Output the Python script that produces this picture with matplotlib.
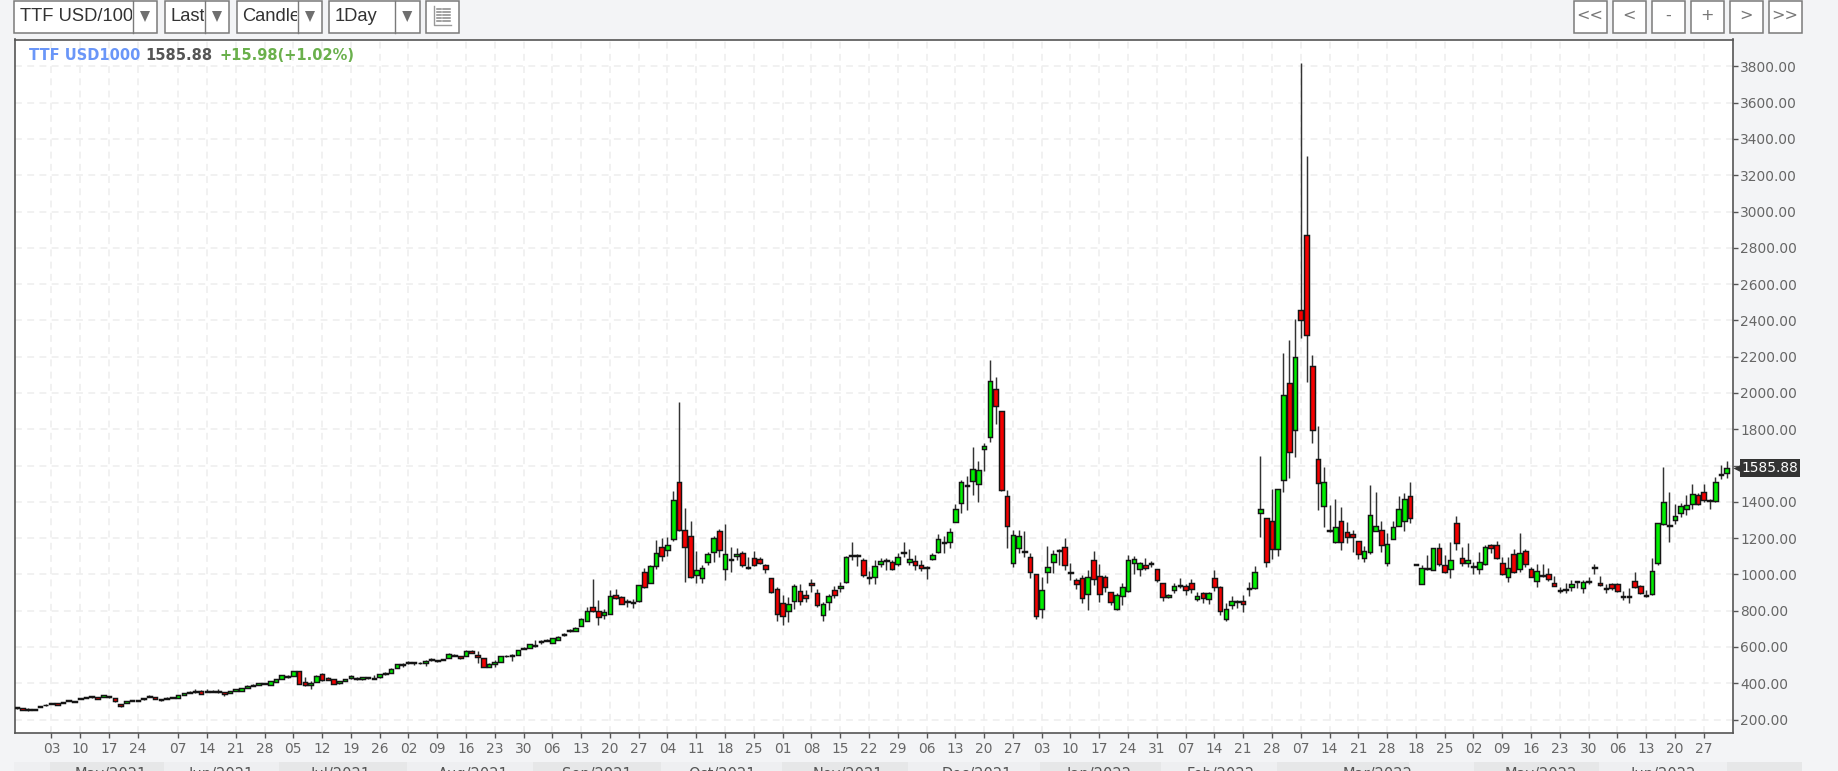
import matplotlib
matplotlib.use('Agg')
import matplotlib.pyplot as plt
from matplotlib.patches import Rectangle, Polygon
from matplotlib.transforms import Bbox

# candles, one line = 10 trading days, oldest first
opens = [262,262,258,259,268,278,288,291,290,308,
    302,316,318,322,322,326,330,318,286,293,
    304,309,311,325,322,313,315,319,318,334,
    347,360,358,354,360,358,350,346,358,360,
    376,386,393,400,391,408,426,440,441,465,
    406,392,408,450,428,424,404,414,430,428,
    425,432,431,432,450,457,483,505,510,516,
    514,514,532,528,530,542,558,548,549,577,
    556,540,490,507,520,548,550,557,597,597,
    612,628,640,623,638,664,686,687,715,746,
    822,798,774,781,888,873,855,850,855,1013,
    954,1046,1153,1136,1193,1507,1243,1211,996,978,
    1070,1121,1239,1028,1080,1104,1119,1042,1092,1085,
    1053,978,919,844,796,855,906,886,950,895,
    779,847,913,923,960,1102,1108,1079,986,987,
    1055,1082,1066,1056,1118,1068,1075,1051,1038,1083,
    1125,1178,1176,1291,1392,1492,1517,1500,1690,1756,
    2022,1899,1434,1061,1143,1128,1096,1005,807,1013,
    1068,1137,1153,1012,969,978,890,1079,994,987,
    904,812,880,908,1064,1028,1051,1062,1029,954,
    873,913,944,934,954,862,895,862,978,930,
    755,829,855,855,920,923,1336,1312,1292,1138,
    1519,2057,1798,2455,2868,2147,1635,1375,1244,1178,
    1294,1235,1221,1184,1089,1121,1237,1243,1062,1194,
    1269,1292,1434,1056,947,1036,1024,1143,1051,1028,
    1285,1088,1061,1045,1029,1055,1160,1160,1061,987,
    1112,1028,1129,1029,963,997,1005,954,908,913,
    930,963,923,958,1036,950,921,945,947,879,
    879,963,937,880,891,1061,1278,1270,1301,1336,
    1360,1388,1438,1452,1408,1406,1546,1558]
closes = [270,255,252,253,275,283,292,282,296,302,
    299,320,322,330,316,334,322,300,274,303,
    309,301,318,328,312,306,321,323,334,344,
    352,352,342,360,354,352,343,356,366,375,
    386,392,401,396,410,424,443,432,467,397,
    390,404,441,417,420,397,410,424,440,424,
    432,427,426,450,458,481,506,500,518,510,
    510,522,526,524,534,564,550,540,580,568,
    544,490,509,516,549,553,556,581,591,614,
    608,632,635,647,656,672,692,706,755,796,
    798,763,794,880,871,838,848,845,939,928,
    1046,1119,1103,1160,1410,1245,1153,987,1027,1038,
    1114,1202,1134,1112,1086,1110,1051,1034,1053,1061,
    1028,904,781,772,838,937,855,871,940,829,
    836,880,888,937,1096,1108,1102,996,980,1044,
    1072,1076,1028,1094,1124,1086,1053,1035,1042,1107,
    1195,1172,1235,1360,1509,1486,1583,1574,1710,2065,
    1930,1465,1268,1219,1211,1122,1011,770,914,1039,
    1112,1131,1051,1006,947,871,987,972,890,928,
    847,886,928,1079,1086,1061,1037,1056,969,873,
    886,938,938,914,921,880,871,895,928,798,
    812,855,849,836,926,1011,1362,1069,1138,1469,
    1991,1674,2198,2401,2317,1798,1503,1509,1238,1261,
    1178,1204,1206,1113,1127,1328,1269,1162,1168,1261,
    1359,1416,1312,1053,1033,1030,1143,1057,1013,1079,
    1171,1061,1079,1040,1070,1152,1145,1088,1004,1037,
    1015,1119,1055,987,1018,991,972,937,912,917,
    947,959,960,962,1040,944,925,923,910,875,
    875,930,897,884,1020,1285,1401,1266,1320,1375,
    1384,1441,1390,1410,1404,1507,1551,1585.88]
highs = [272,263,263,261,276,284,293,292,297,309,
    303,321,326,331,323,335,331,319,288,304,
    310,310,319,336,323,314,322,324,335,346,
    358,368,361,369,362,368,353,358,368,376,
    388,394,402,402,411,425,446,448,468,466,
    432,414,443,454,432,425,412,426,445,434,
    436,434,446,451,460,482,507,510,522,520,
    516,528,540,530,536,565,562,552,581,584,
    578,542,510,530,550,556,562,582,600,616,
    638,640,644,648,658,676,697,708,758,818,
    972,858,812,913,922,880,862,862,942,1038,
    1050,1189,1199,1204,1461,1949,1364,1296,1130,1052,
    1126,1211,1248,1278,1153,1147,1130,1098,1130,1096,
    1060,982,932,886,877,946,946,913,972,922,
    850,891,935,958,1102,1180,1115,1088,1018,1079,
    1088,1090,1079,1118,1180,1138,1105,1080,1048,1118,
    1221,1210,1254,1388,1520,1542,1700,1627,1726,2179,
    2090,1899,1465,1245,1245,1239,1116,1005,983,1156,
    1134,1138,1198,1064,978,996,1024,1131,1057,996,
    904,895,954,1107,1101,1070,1088,1072,1032,954,
    890,950,978,947,972,903,903,903,1024,936,
    840,880,858,886,958,1046,1651,1312,1470,1469,
    2222,2290,2405,3820,3307,2208,1818,1594,1381,1414,
    1371,1288,1243,1184,1154,1495,1454,1296,1229,1296,
    1434,1450,1509,1057,1051,1107,1145,1171,1107,1180,
    1322,1149,1171,1070,1124,1161,1168,1186,1096,1096,
    1140,1230,1140,1040,1055,1055,1033,991,928,955,
    969,965,969,985,1055,991,948,950,951,906,
    924,1015,941,912,1088,1285,1594,1452,1386,1392,
    1437,1496,1447,1496,1415,1538,1603,1627]
lows = [260,253,250,252,267,277,287,281,289,301,
    298,315,317,321,315,325,321,298,272,292,
    303,300,310,323,311,305,314,318,317,333,
    345,348,340,352,353,345,330,344,357,358,
    375,385,392,395,390,407,425,428,440,395,
    384,370,406,415,418,395,395,412,426,418,
    420,425,424,430,448,456,482,490,508,500,
    508,498,522,520,529,541,548,535,548,565,
    510,488,488,490,518,546,525,555,588,596,
    600,615,632,622,636,660,682,686,713,744,
    795,720,756,780,866,835,822,815,850,925,
    950,1030,1072,1100,1184,1240,960,978,954,950,
    1050,1070,1096,969,1015,1080,1040,1028,1046,1055,
    1010,900,745,720,735,812,834,850,902,822,
    745,803,870,904,955,1079,1045,987,945,945,
    1043,1024,1024,1048,1097,1050,1024,1020,976,1080,
    1116,1116,1148,1290,1340,1355,1438,1397,1572,1732,
    1829,1460,1143,1042,1116,1094,978,752,761,950,
    1009,1051,1024,969,922,844,803,941,849,904,
    830,803,831,904,1000,994,1024,1040,960,855,
    870,895,923,888,896,855,845,838,910,776,
    744,812,816,795,880,918,1208,1042,1085,1099,
    1456,1533,1647,2301,2061,1722,1357,1263,1233,1174,
    1135,1174,1125,1085,1070,1115,1237,1125,1046,1194,
    1269,1237,1282,1052,945,1024,1022,1046,1009,978,
    1134,1046,1042,1002,1005,1051,1116,1083,996,959,
    1010,1015,1040,984,930,985,965,935,897,898,
    910,923,900,945,1002,937,895,914,905,860,
    843,923,892,873,886,1052,1272,1176,1278,1314,
    1325,1359,1383,1401,1359,1401,1524,1530]

# first four mondays of May, then every 5 bars
tick_pos = [6, 11, 16, 21] + list(range(28, 294, 5))
tick_labels = ['03','10','17','24', '07','14','21','28', '05','12','19','26',
    '02','09','16','23','30', '06','13','20','27', '04','11','18','25',
    '01','08','15','22','29', '06','13','20','27', '03','10','17','24','31',
    '07','14','21','28', '07','14','21','28', '18','25',
    '02','09','16','23','30', '06','13','20','27']
price_ticks = list(range(200, 3801, 200))

month_names = ['May/2021','Jun/2021','Jul/2021','Aug/2021','Sep/2021','Oct/2021','Nov/2021',
    'Dec/2021','Jan/2022','Feb/2022','Mar/2022','May/2022','Jun/2022']
month_text_x = [111, 221, 341, 473, 597, 722, 848, 977, 1099, 1221, 1378, 1541, 1663]
month_edges = [14, 50, 164, 279, 407, 533, 661, 782, 908, 1040, 1161, 1277, 1409, 1474, 1599, 1727, 1802]

W, H = 1838, 771
BG = '#f3f4f6'
fig = plt.figure(figsize=(W / 100, H / 100), dpi=100, facecolor=BG)

# overlay in pixel coordinates for the toolbar and month strip
ui = fig.add_axes([0, 0, 1, 1], zorder=0)
ui.set_xlim(0, W)
ui.set_ylim(H, 0)
ui.axis('off')


def button(x0, x1, divider=None, label=None):
    ui.add_patch(Rectangle((x0, 0.5), x1 - x0, 32, fc='white', ec='#7a7a7a', lw=1.1))
    if divider is None:
        return
    ui.plot([divider, divider], [0.5, 32.5], color='#7a7a7a', lw=1.0)
    cx = (divider + x1) / 2
    ui.add_patch(Polygon([(cx - 5, 11), (cx + 5, 11), (cx, 22)], fc='#6f6f6f', ec='none'))
    if label:
        t = ui.text(x0 + 6, 16.5, label, fontsize=13.2, family='Liberation Sans',
                    color='#333333', va='center', ha='left')
        t.set_clip_on(True)
        t.set_clip_box(Bbox([[x0, H - 33], [divider - 1, H]]))


button(14, 157, 133, 'TTF USD/1000')
button(164.5, 229, 205, 'Last')
button(236.5, 322, 298, 'Candle')
button(329, 419.5, 395, '1Day')
button(426, 459)
# little table icon
ui.plot([434, 434, 451], [6, 25, 25], color='#999999', lw=1)
for row_y in (9, 12, 15, 18, 21):
    ui.plot([437, 441], [row_y, row_y], color='#888888', lw=1.1)
    ui.plot([443, 450], [row_y, row_y], color='#888888', lw=1.1)

nav_x = [1574, 1613, 1652, 1691, 1730, 1769]
nav_labels = ['<<', '<', '-', '+', '>', '>>']
for nx, nl in zip(nav_x, nav_labels):
    button(nx, nx + 32.5)
    ui.text(nx + 16, 15.5, nl, fontsize=11.5, family='DejaVu Sans', color='#777777',
            ha='center', va='center')

# month strip along the bottom edge, cut by the picture edge like the original
for k in range(len(month_edges) - 1):
    shade = '#e6e7e8' if k % 2 == 1 else '#eeeff1'
    ui.add_patch(Rectangle((month_edges[k], 762), month_edges[k + 1] - month_edges[k], 9,
                           fc=shade, ec='none'))
for mx, mn in zip(month_text_x, month_names):
    ui.text(mx, 767.5, mn, fontsize=10.5, color='#555555', ha='center', va='top')

# main chart
left, right, top, bottom = 15, 1733, 39.5, 733
ax = fig.add_axes([left / W, 1 - bottom / H, (right - left) / W, (bottom - top) / H], zorder=2)
ax.set_facecolor('white')
ax.set_xlim(-0.34, 298.08)
ax.set_ylim(126, 3948)

xs = list(range(len(opens)))
ax.vlines(xs, lows, highs, color='#333333', lw=1.05, zorder=3)
colors = ['#00ee00' if c >= o else '#f40000' for o, c in zip(opens, closes)]
body_low = [min(o, c) for o, c in zip(opens, closes)]
body_size = [abs(c - o) for o, c in zip(opens, closes)]
ax.bar(xs, body_size, bottom=body_low, width=0.8, color=colors, edgecolor='#151515',
       linewidth=1.05, zorder=4)

ax.set_xticks(tick_pos)
ax.set_xticklabels(tick_labels)
ax.set_yticks(price_ticks)
ax.set_yticklabels(['' if p == 1600 else f'{p:.2f}' for p in price_ticks])
ax.yaxis.tick_right()
ax.tick_params(axis='y', length=3.5, width=1, color='#555555', labelcolor='#666666',
               labelsize=9.9, pad=1.5)
ax.tick_params(axis='x', length=3.5, width=1, color='#555555', labelcolor='#666666',
               labelsize=9.9, pad=3)
ax.grid(True, color='#eeeeee', lw=1.1, linestyle=(0, (4.5, 3.5)), zorder=0)
ax.set_axisbelow(True)
for s in ax.spines.values():
    s.set_color('#555555')
    s.set_linewidth(1.2)

# last price tag on the right axis
tr = ax.get_yaxis_transform()
ax.plot([1.0028], [closes[-1]], marker='<', ms=7, color='#333333', mec='none', transform=tr,
        clip_on=False, zorder=6)
ax.text(1.0052, closes[-1], f'{closes[-1]:.2f}', transform=tr, color='white', fontsize=9.9,
        va='center', ha='left', clip_on=False, zorder=6,
        bbox=dict(boxstyle='square,pad=0.12', fc='#333333', ec='none'))

# header line sits on top of the chart
head = fig.add_axes([0, 0, 1, 1], zorder=3)
head.set_xlim(0, W)
head.set_ylim(H, 0)
head.axis('off')
head_x = [29, 145.5, 219.5]
head_text = ['TTF USD1000', '1585.88', '+15.98(+1.02%)']
head_col = ['#6a96f8', '#555555', '#6ab04c']
for hx, txt, col in zip(head_x, head_text, head_col):
    head.text(hx, 56, txt, fontsize=10.5, fontweight='bold', color=col, va='center', ha='left')

fig.savefig('out.png', dpi=100, facecolor=fig.get_facecolor())
